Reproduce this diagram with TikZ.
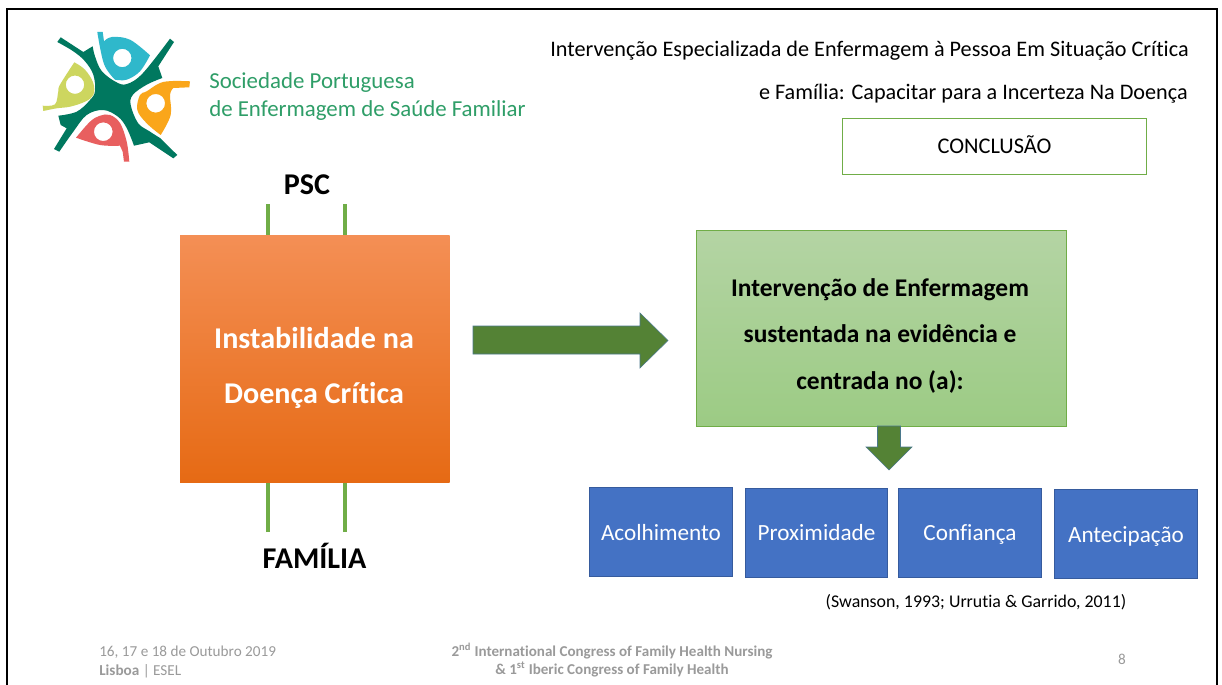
\documentclass[tikz,border=0pt]{standalone}
\usepackage{fontspec}
\setmainfont[Ligatures={TeX,CommonOff}]{Carlito}
\definecolor{teal1}{HTML}{00785F}
\definecolor{lblue}{HTML}{2FB8CB}
\definecolor{lorange}{HTML}{FAA61A}
\definecolor{lred}{HTML}{E85F5F}
\definecolor{lyellow}{HTML}{CDD65F}
\definecolor{sgreen}{HTML}{2F9E68}
\definecolor{barg}{HTML}{70AD47}
\definecolor{arrowg}{HTML}{548235}
\definecolor{boxb}{HTML}{4472C4}
\definecolor{foot}{HTML}{9A9A9A}
\definecolor{otop}{HTML}{F48F55}
\definecolor{obot}{HTML}{E66A14}
\definecolor{gtop}{HTML}{B4D4A4}
\definecolor{gbot}{HTML}{9CCB84}
\tikzset{
 txt/.style={inner sep=0pt,anchor=base,text=black},
 bar/.style={draw=barg,line width=2.6pt},
 bluebox/.style={fill=boxb,draw=boxb!80!black,line width=.4pt,inner sep=0pt,text=white,font=\fontsize{17.4}{20}\selectfont,minimum height=67pt,text height=15pt,text depth=2.5pt},
 foottxt/.style={inner sep=0pt,anchor=base,text=foot,font=\fontsize{11.4}{13}\selectfont},
 footbold/.style={inner sep=0pt,anchor=base,text=foot,font=\bfseries\fontsize{11.3}{13}\selectfont},
 bigt/.style={font=\bfseries\fontsize{22.6}{26}\selectfont,inner sep=0pt,anchor=base},
 gt/.style={font=\bfseries\fontsize{19.1}{23}\selectfont,inner sep=0pt,anchor=base,text=black},
 blockarrow/.style={fill=arrowg,draw=boxb!60!arrowg,line width=.4pt},
 soc/.style={inner sep=0pt,anchor=base west,text=sgreen,font=\fontsize{17.15}{20}\selectfont},
 ttl/.style={txt,anchor=base east,font=\fontsize{16.65}{20}\selectfont},
 sm/.style={smooth,tension=.6},
}
\begin{document}
\begin{tikzpicture}[x=0.75pt,y=-0.75pt]
\useasboundingbox (0,0) rectangle (1222,685);
\fill[white] (0,0) rectangle (1222,685);
\draw[black,line width=1.5pt] (7,690) -- (7,9) -- (1217,9) -- (1217,690);
% logo
\fill[teal1] (60.7,37.3) -- (83.3,52) -- plot[sm] coordinates {(92.7,46.3) (95,56.3) (101.7,71) (116,82) (127,84) (143,73) (170,38.7)} -- (174,42) -- (158.3,66.3) -- plot[sm] coordinates {(162.3,78) (146.7,84.7) (133,94.7) (130.7,105) (138,123) (149,131) (160,138)} -- (177.3,155) -- (173.3,158.3) -- (149.3,142.3) -- plot[sm] coordinates {(134,145.7) (126.7,128) (118,116.7) (103.3,110) (86.7,115) (73.3,131.7) (59.3,151.7)} -- (54,149) -- (66.7,128.3) -- (60.7,125) -- plot[sm] coordinates {(58.3,115.7) (76.7,111.7) (90,100) (95,91) (93.3,74.7) (85,61.3) (73.3,51.3) (57.3,42)} -- cycle;
\fill[lblue,even odd rule] (97.3,32) -- (102.7,32) -- plot[sm] coordinates {(104,41.3) (112,37) (130,39.7) (150,55.3)} -- plot[sm] coordinates {(150,55.3) (140,71.3) (126.7,79.7) (115,79.7)} -- plot[sm] coordinates {(115,79.7) (104,64) (97.3,32)} -- cycle (122.3,58) circle[radius=6.9pt];
\fill[lorange,even odd rule] (190,81.3) -- (189.3,87.3) -- plot[sm] coordinates {(173.3,88) (170,95) (170.7,115) (160.7,135)} -- plot[sm] coordinates {(160.7,135) (146.7,123.3) (137.3,110) (140,95) (146.7,91.3) (160,83) (173,81) (190,81.3)} -- cycle (155.7,103.3) circle[radius=7pt];
\fill[lred,even odd rule] (76,137.7) -- plot[sm] coordinates {(76,137.7) (90,121.7) (100,115.7) (110,115) (120,123) (126.7,141.7) (129.3,161.7)} -- (124,161.7) -- (122.7,151.7) -- (120,145.7) -- plot[sm] coordinates {(120,145.7) (100,145) (76,137.7)} -- cycle (103.3,131.7) circle[radius=7pt];
\fill[lyellow,even odd rule] (74.3,62.3) -- plot[sm] coordinates {(74.3,62.3) (85,69.7) (93.3,83) (93.3,95) (85,101.7) (70,106.7) (56.7,108.3) (43.3,111)} -- (42.7,105.7) -- plot[sm] coordinates {(42.7,105.7) (55,104.3) (58.3,91.3) (60,84.7) (74.3,62.3)} -- cycle (75,84.7) circle[radius=6.9pt];
\node[soc] (s1) at (209,89) {Sociedade Portuguesa};
\node[soc] (s2) at (209,117) {de Enfermagem de Saúde Familiar};
% title
\node[ttl] (t1) at (1189,57) {Intervenção Especializada de Enfermagem à Pessoa Em Situação Crítica};
\node[ttl] (t2) at (1188,99) {e Família: Capacitar para a Incerteza Na Doença};
\node[draw=barg,line width=.7pt,minimum width=228pt,minimum height=42pt,inner sep=0pt,text height=13pt,text depth=2pt,font=\fontsize{16.8}{20}\selectfont] (con) at (994.5,146.5) {CONCLUSÃO};
% orange box
\node[bigt,text=black] (psc) at (307,195) {PSC};
\node[bigt,text=black] (fam) at (314.5,568) {FAMÍLIA};
\coordinate (b1) at (268,204); \coordinate (b2) at (345,204);
\coordinate (b3) at (268,532); \coordinate (b4) at (345,532);
\coordinate (c1) at (268,236); \coordinate (c2) at (345,236);
\coordinate (c3) at (268,482); \coordinate (c4) at (345,482);
\draw[bar] (b1) -- (c1); \draw[bar] (b2) -- (c2);
\draw[bar] (b3) -- (c3); \draw[bar] (b4) -- (c4);
\path[top color=otop,bottom color=obot,draw=none] (180,235.5) rectangle (449.5,482);
\node[bigt,text=white] (i1) at (314,348) {Instabilidade na};
\node[bigt,text=white] (i2) at (314,403) {Doença Crítica};
% green box
\path[top color=gtop,bottom color=gbot,draw=barg,line width=.5pt] (696,230) rectangle (1066,426);
\node[gt] (g1) at (880,296) {Intervenção de Enfermagem};
\node[gt] (g2) at (880,342) {sustentada na evidência e};
\node[gt] (g3) at (880,389) {centrada no (a):};
% arrows
\draw[blockarrow] (473,326) -- (640,326) -- (640,313) -- (668,340.5) -- (640,368) -- (640,354) -- (473,354) -- cycle;
\draw[blockarrow] (877.5,426) -- (877.5,447) -- (866,447) -- (889,470) -- (912,447) -- (900.5,447) -- (900.5,426) -- cycle;
% blue boxes
\node[bluebox,minimum width=107.5pt] (k1) at (661,532) {Acolhimento};
\node[bluebox,minimum width=106.5pt] (k2) at (816.5,532.5) {Proximidade};
\node[bluebox,minimum width=107.5pt] (k3) at (970,532.5) {Confiança};
\node[bluebox,minimum width=107.5pt] (k4) at (1126,534) {Antecipação};
\node[txt,font=\fontsize{13.4}{16}\selectfont] (ref) at (976,607) {(Swanson, 1993; Urrutia \& Garrido, 2011)};
% footer
\node[foottxt,anchor=base west] (f1) at (99,656) {16, 17 e 18 de Outubro 2019};
\node[foottxt,anchor=base west] (f2) at (99,675) {\textbf{Lisboa} | ESEL};
\node[footbold] (f3) at (612,656) {2\textsuperscript{nd} International Congress of Family Health Nursing};
\node[footbold] (f4) at (612,674) {\& 1\textsuperscript{st} Iberic Congress of Family Health};
\node[foottxt] (f5) at (1122,664) {8};
\end{tikzpicture}
\end{document}
